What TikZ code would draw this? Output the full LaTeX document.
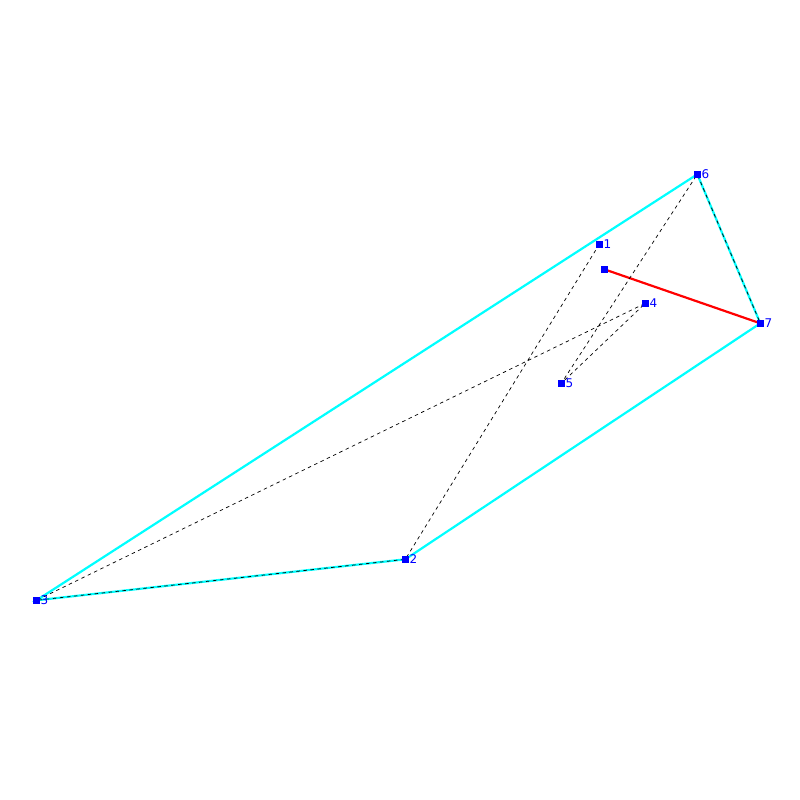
\documentclass[tikz,border=0pt]{standalone}
\usepackage{fontspec}
\setmainfont{DejaVu Sans}
\definecolor{hullcyan}{RGB}{0,255,255}
\definecolor{ptblue}{RGB}{0,0,255}
\definecolor{linered}{RGB}{255,0,0}
\begin{document}
\begin{tikzpicture}[x=1pt,y=-1pt,
  pt/.style={fill=ptblue,inner sep=0pt,minimum size=7pt,draw=none},
  lbl/.style={text=ptblue,font=\fontsize{12}{12}\selectfont,inner sep=0pt,anchor=west},
  hull/.style={hullcyan,line width=2.2pt},
  dsh/.style={black,line width=0.7pt,dash pattern=on 3.5pt off 3.5pt},
  redline/.style={linered,line width=2.2pt}]
\useasboundingbox (0,0) rectangle (800,800);
\coordinate (p0) at (604.3,269.3);
\coordinate (p1) at (599.3,244.3);
\coordinate (p2) at (405.3,559.3);
\coordinate (p3) at (36.5,600.3);
\coordinate (p4) at (645.3,303.3);
\coordinate (p5) at (561.3,383.3);
\coordinate (p6) at (697.3,174.3);
\coordinate (p7) at (760.3,323.3);
\draw[hull] (p6) -- (p3) -- (p2) -- (p7) -- cycle;
\draw[redline] (p0) -- (p7);
\draw[dsh] (p1) -- (p2) -- (p3) -- (p4) -- (p5) -- (p6) -- (p7);
\foreach \i in {0,...,7} { \node[pt] (n\i) at (p\i) {}; }
\foreach \i in {1,...,7} { \node[lbl] (l\i) at ([xshift=4pt]p\i) {\i}; }
\end{tikzpicture}
\end{document}
